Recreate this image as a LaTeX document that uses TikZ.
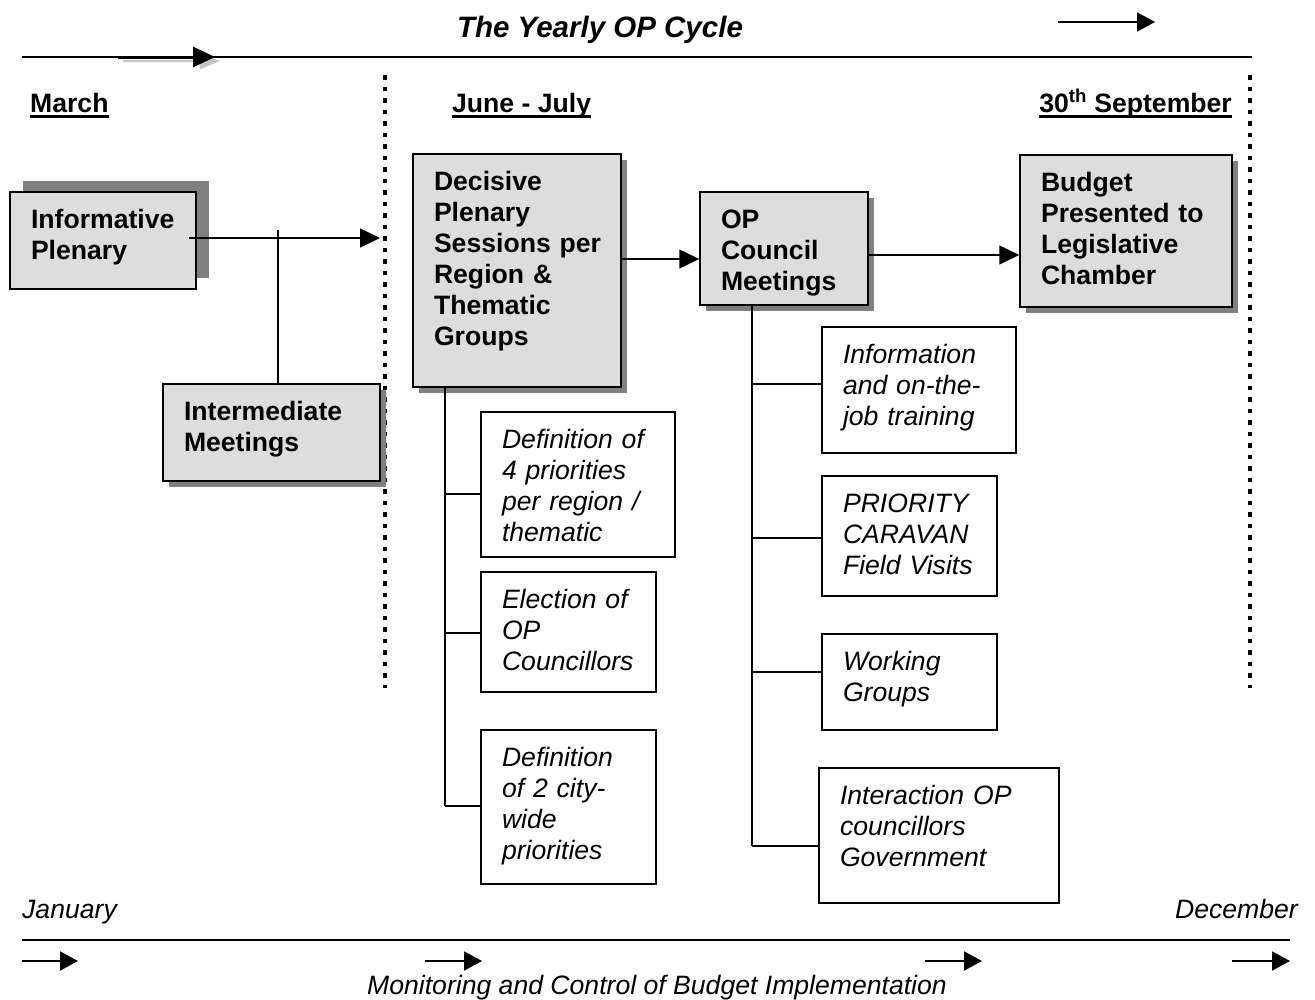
\documentclass[tikz,border=0pt]{standalone}
\usepackage{fontspec}
\setmainfont{Liberation Sans}
\usetikzlibrary{arrows.meta,shadows}
\definecolor{boxfill}{HTML}{DDDDDD}
\definecolor{shade}{HTML}{808080}
\definecolor{ghost}{HTML}{C4C4C4}
\newcommand{\txt}{\fontsize{26.6}{31}\selectfont}
\hbadness=10000 \hfuzz=20pt
\tikzset{
  every node/.style={font=\txt},
  framed/.style={draw, line width=1.5pt, inner xsep=21pt, inner ysep=0pt,
    align=left, text height=36.5pt},
  stage/.style={framed, fill=boxfill, font=\txt\bfseries},
  task/.style={framed, fill=white, font=\txt\itshape},
  sized/.style 2 args={text width=#1, text depth=#2},
  lowshadow/.style={drop shadow={shadow xshift=6pt, shadow yshift=-6pt, fill=shade, opacity=1}},
  highshadow/.style={drop shadow={shadow xshift=13pt, shadow yshift=11pt, fill=shade, opacity=1}},
  link/.style={line width=1.5pt},
  arr/.style={line width=1.5pt, -{Triangle[length=20pt,width=19pt]}},
  smallarr/.style={line width=2pt, -{Triangle[length=18pt,width=19pt]}},
  divider/.style={line width=4.5pt, dash pattern=on 4.5pt off 7pt},
  month/.style={font=\txt\bfseries, inner sep=0pt, anchor=base west},
  lbl/.style={font=\txt\itshape, inner sep=0pt},
}
\begin{document}
\begin{tikzpicture}[x=1pt, y=-1pt]
\useasboundingbox (0,0) rectangle (1315,999);

% heading and the yearly time line
\node[font=\fontsize{29.5}{34}\selectfont\bfseries\itshape, inner sep=0pt, anchor=base] (title) at (600,37) {The Yearly OP Cycle};
\draw[line width=1.5pt] (22,57) -- (1252,57);
\draw[line width=2.5pt, ghost, -{Triangle[length=20pt,width=16pt]}] (123,61) -- (220,61);
\draw[line width=3pt, -{Triangle[length=22pt,width=20pt]}] (118,57) -- (215,57);
\draw[smallarr] (1058,22) -- (1155,22);

% period markers
\draw[divider] (385,75) -- (385,688);
\draw[divider] (1250,75) -- (1250,688);

% month headings
\node[month] (mar) at (30,112) {March};
\node[month] (jun) at (452,112) {June - July};
\node[month, anchor=base east] (sep) at (1232,112) {30\textsuperscript{th} September};
\foreach \m in {mar,jun,sep}
  \draw[line width=2.5pt] ([yshift=-4.5pt]\m.base west) -- ([yshift=-4.5pt]\m.base east);

% main stages
\node[stage, highshadow, sized={144pt}{60.5pt}] (inf) at (103,240.5) {Informative\\Plenary};
\node[stage, lowshadow, sized={175pt}{60.5pt}] (inter) at (271.5,432.5) {Intermediate\\Meetings};
\node[stage, lowshadow, sized={166pt}{196.5pt}] (dec) at (517,270.5)
  {Decisive\\Plenary\\Sessions~per\\Region \&\\Thematic\\Groups};
\node[stage, lowshadow, sized={126pt}{76.5pt}] (opc) at (784,248.5) {OP\\Council\\Meetings};
\node[stage, lowshadow, sized={170pt}{115.5pt}] (bud) at (1126,231) {Budget\\Presented~to\\Legislative\\Chamber};

% activities of the decisive plenaries
\node[task, sized={152pt}{108.5pt}] (def4) at (578,484.5) {Definition~of\\4~priorities\\per~region~/\\thematic};
\node[task, sized={133pt}{83.5pt}] (elect) at (568.5,632) {Election~of\\OP\\Councillors};
\node[task, sized={133pt}{117.5pt}] (def2) at (568.5,807) {Definition\\of~2~city-\\wide\\priorities};

% activities of the OP council
\node[task, sized={152pt}{89.5pt}] (info) at (919,390) {Information\\and~on-the-\\job~training};
\node[task, sized={133pt}{83.5pt}] (carav) at (909.5,536) {PRIORITY\\CARAVAN\\Field~Visits};
\node[task, sized={133pt}{59.5pt}] (work) at (909.5,682) {Working\\Groups};
\node[task, sized={198pt}{98.5pt}] (interac) at (939,835.5) {Interaction~OP\\councillors\\Government};

% flow between stages
\coordinate (gate) at (380,238);
\coordinate (tap) at (278,230);
\draw[arr] ([xshift=-8pt]inf.east |- gate) -- (gate);
\draw[link] (tap) -- (tap |- inter.north);
\draw[arr] (dec.east |- 0,259) -- (opc.west |- 0,259);
\draw[arr] (opc.east |- 0,255) -- (bud.west |- 0,255);

% branch trees
\coordinate (dtrunk) at (445,0);
\draw[link] (dtrunk |- dec.south) -- (dtrunk |- 0,806);
\draw[link] (dtrunk |- 0,494) -- (def4.west |- 0,494);
\draw[link] (dtrunk |- 0,633) -- (elect.west |- 0,633);
\draw[link] (dtrunk |- 0,806) -- (def2.west |- 0,806);

\coordinate (otrunk) at (752,0);
\draw[link] (otrunk |- opc.south) -- (otrunk |- 0,846);
\draw[link] (otrunk |- 0,384) -- (info.west |- 0,384);
\draw[link] (otrunk |- 0,538) -- (carav.west |- 0,538);
\draw[link] (otrunk |- 0,672) -- (work.west |- 0,672);
\draw[link] (otrunk |- 0,846) -- (interac.west |- 0,846);

% calendar line and monitoring
\node[lbl, anchor=base west] (jan) at (22,918) {January};
\node[lbl, anchor=base east] (dece) at (1298,918) {December};
\draw[line width=1.5pt] (22,940) -- (1290,940);
\draw[smallarr] (22,961) -- (78,961);
\draw[smallarr] (425,961) -- (482,961);
\draw[smallarr] (925,961) -- (982,961);
\draw[smallarr] (1232,961) -- (1290,961);
\node[lbl, anchor=base] (mon) at (657,994) {Monitoring and Control of Budget Implementation};
\end{tikzpicture}
\end{document}
